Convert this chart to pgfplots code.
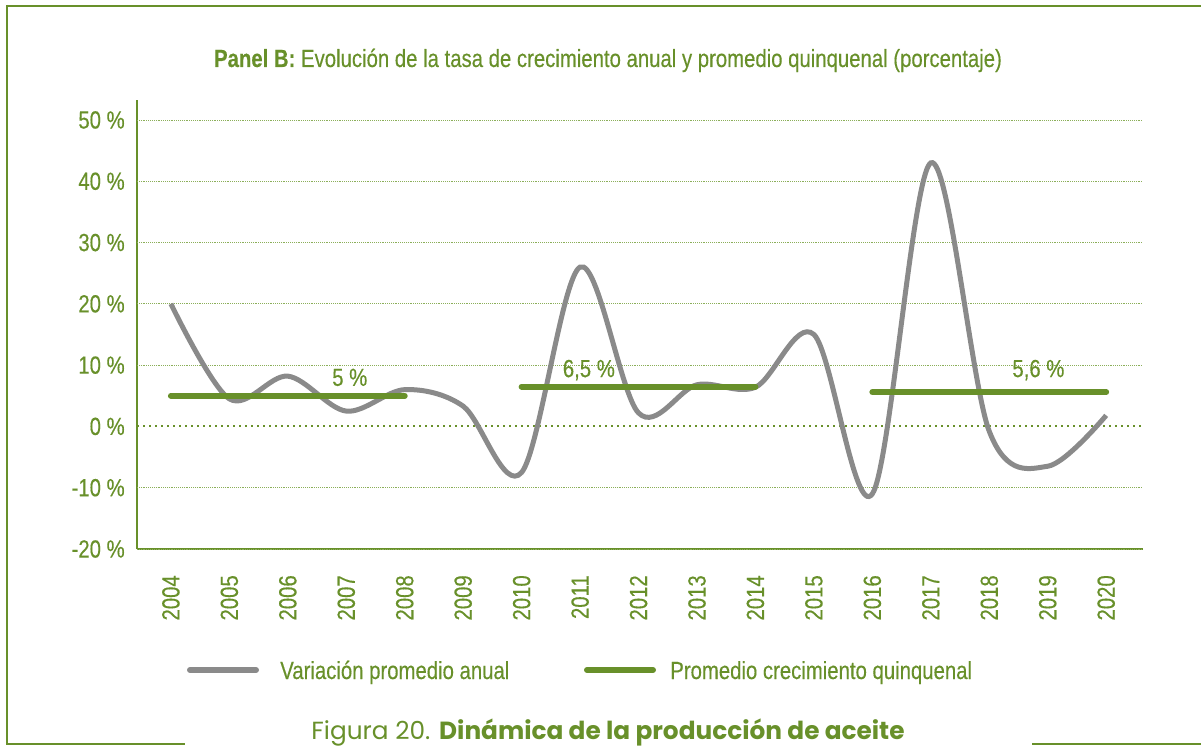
\documentclass[border=0pt]{standalone}
\usepackage{pgfplots}
\pgfplotsset{compat=1.18}
\usepackage{fontspec}
\setmainfont{Liberation Sans}[FakeStretch=0.82, FakeBold=0.3]
\newfontfamily\capfont{Poppins}
\definecolor{vgreen}{RGB}{104,144,42}
\definecolor{lgreen}{RGB}{140,175,90}
\definecolor{lgray}{RGB}{138,138,138}
\newcommand{\tf}{\fontsize{18.6}{21}\selectfont}
\begin{document}
\begin{tikzpicture}
\path[use as bounding box] (0,0) rectangle (900.75pt,559.5pt);
\begin{axis}[
 at={(102.75pt,147.75pt)}, anchor=south west,
 scale only axis, width=754.5pt, height=336.75pt,
 xmin=-0.58, xmax=16.63, ymin=-20, ymax=53.26,
 axis x line*=bottom, axis y line*=left,
 axis line style={vgreen, line width=1.1pt, -},
 xtick={0,...,16},
 xticklabels={2004,2005,2006,2007,2008,2009,2010,2011,2012,2013,2014,2015,2016,2017,2018,2019,2020},
 ytick={-20,-10,0,10,20,30,40,50},
 yticklabels={-20 \%,-10 \%,0 \%,10 \%,20 \%,30 \%,40 \%,50 \%},
 major tick length=0pt,
 extra y ticks={-20,-10,10,20,30,40,50}, extra y tick labels={},
 extra y tick style={grid=major, grid style={lgreen, densely dotted, line width=0.6pt}},
 tick label style={font=\tf, text=vgreen},
 xticklabel style={rotate=90, anchor=east, inner sep=0pt},
 xticklabel shift=19.5pt,
 yticklabel style={inner sep=0pt}, yticklabel shift=9pt,
 clip=false,
]
\addplot[vgreen, line width=1.5pt, dash pattern=on 1.5pt off 3pt] coordinates {(-0.58,0) (16.63,0)};
\addplot[lgray, line width=3.75pt, smooth, tension=0.55] coordinates {
(0,20) (1,4.5) (2,8.2) (3,2.5) (4,6.0) (5,3.3) (6,-7.5) (7,26) (8,2.2)
(9,6.8) (10,6.4) (11,15) (12,-11) (13,43) (14,-0.8) (15,-6.5) (16,1.8)};
\addplot[vgreen, line width=4.5pt, line cap=round] coordinates {(0,5) (4,5)};
\addplot[vgreen, line width=4.5pt, line cap=round] coordinates {(6,6.5) (10,6.5)};
\addplot[vgreen, line width=4.5pt, line cap=round] coordinates {(12,5.6) (16,5.6)};
\node[text=vgreen, font=\tf] at (axis cs:3.06,8.0) {5 \%};
\node[text=vgreen, font=\tf] at (axis cs:7.15,9.2) {6,5 \%};
\node[text=vgreen, font=\tf] at (axis cs:14.84,9.2) {5,6 \%};
\end{axis}
\begin{scope}[x=0.75pt,y=-0.75pt,yshift=559.5pt]
\draw[vgreen, line width=1.9pt] (7,6) -- (1201,6);
\draw[vgreen, line width=1.9pt] (7,5) -- (7,744);
\draw[vgreen, line width=1.9pt] (6,744) -- (185,744);
\draw[vgreen, line width=1.9pt] (1032,744) -- (1201,744);
\node[anchor=base, text=vgreen, font=\tf] at (608,67) {\textbf{Panel B:} Evolución de la tasa de crecimiento anual y promedio quinquenal (porcentaje)};
\draw[lgray, line width=4.5pt, line cap=round] (190,670) -- (256,670);
\node[anchor=base west, inner sep=0pt, text=vgreen, font=\tf] at (280,679) {Variación promedio anual};
\draw[vgreen, line width=4.5pt, line cap=round] (587,670) -- (653,670);
\node[anchor=base west, inner sep=0pt, text=vgreen, font=\tf] at (670,679) {Promedio crecimiento quinquenal};
\node[anchor=base, text=vgreen, font=\capfont\fontsize{18.6}{22}\selectfont] at (608,739) {Figura 20. \textbf{Dinámica de la producción de aceite}};
\end{scope}
\end{tikzpicture}
\end{document}
